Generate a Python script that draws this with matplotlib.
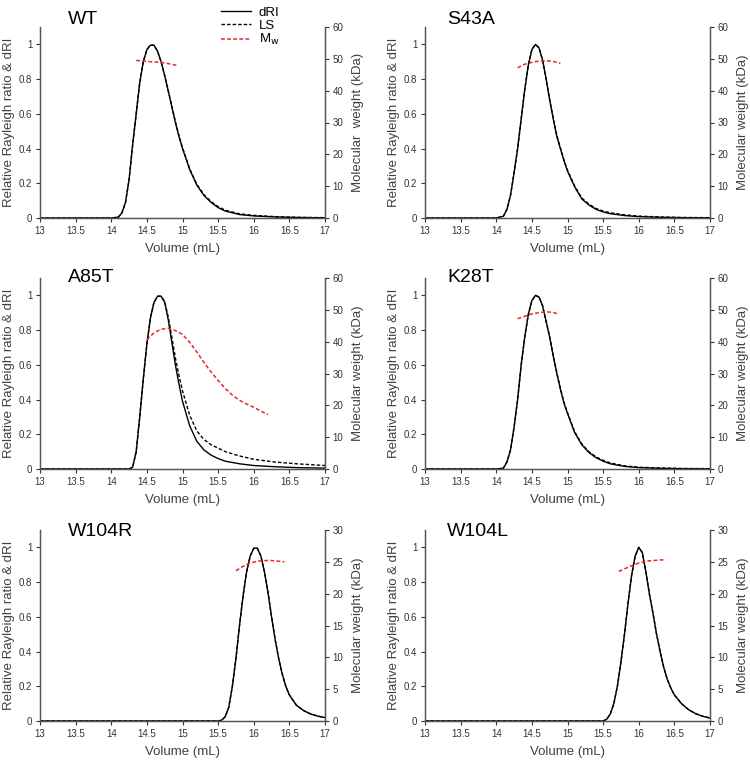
import numpy as np
import matplotlib
matplotlib.use("Agg")
import matplotlib.pyplot as plt
from matplotlib.ticker import FormatStrFormatter, MultipleLocator

plt.rcParams['font.family'] = ['Liberation Sans', 'DejaVu Sans']

# elution volume grids (mL)
vol_a = [13.0, 14.0, 14.1, 14.15, 14.2, 14.25, 14.3, 14.35, 14.4, 14.45, 14.5,
         14.55, 14.6, 14.65, 14.7, 14.75, 14.8, 14.85, 14.9, 14.95, 15.0, 15.1,
         15.2, 15.3, 15.4, 15.5, 15.6, 15.8, 16.0, 16.3, 16.6, 17.0]
vol_b = [13.0, 15.5, 15.55, 15.6, 15.65, 15.7, 15.75, 15.8, 15.85, 15.9, 15.95,
         16.0, 16.05, 16.1, 16.15, 16.2, 16.25, 16.3, 16.35, 16.4, 16.45, 16.5,
         16.6, 16.7, 16.8, 16.9, 17.0]

# WT
wt_dri = [0, 0, 0.005, 0.03, 0.09, 0.22, 0.42, 0.6, 0.78, 0.9, 0.97,
          0.995, 0.995, 0.96, 0.9, 0.82, 0.73, 0.64, 0.55, 0.47, 0.4, 0.28,
          0.19, 0.13, 0.09, 0.06, 0.04, 0.02, 0.012, 0.006, 0.003, 0.001]
wt_ls = [0, 0, 0.005, 0.03, 0.09, 0.22, 0.42, 0.6, 0.78, 0.9, 0.97,
         0.995, 0.995, 0.96, 0.9, 0.82, 0.735, 0.645, 0.555, 0.475, 0.405, 0.285,
         0.195, 0.135, 0.095, 0.065, 0.045, 0.024, 0.015, 0.008, 0.004, 0.002]
wt_mw_vol = [14.35, 14.45, 14.55, 14.65, 14.75, 14.85, 14.92]
wt_mw = [49.5, 49.3, 49.1, 49.0, 48.7, 48.3, 47.9]

# S43A
s43a_dri = [0, 0, 0.01, 0.05, 0.13, 0.26, 0.4, 0.57, 0.74, 0.88, 0.97,
            1.0, 0.98, 0.91, 0.8, 0.68, 0.57, 0.47, 0.4, 0.33, 0.27, 0.18,
            0.11, 0.075, 0.05, 0.035, 0.025, 0.014, 0.008, 0.004, 0.002, 0.001]
s43a_ls = [0, 0, 0.01, 0.05, 0.13, 0.26, 0.4, 0.57, 0.74, 0.88, 0.97,
           1.0, 0.98, 0.91, 0.8, 0.68, 0.575, 0.475, 0.405, 0.335, 0.275, 0.185,
           0.115, 0.08, 0.055, 0.04, 0.03, 0.018, 0.011, 0.006, 0.003, 0.002]
s43a_mw_vol = [14.3, 14.4, 14.5, 14.6, 14.7, 14.8, 14.9]
s43a_mw = [47.2, 48.3, 48.9, 49.3, 49.4, 49.2, 48.6]

# A85T
a85t_dri = [0, 0, 0, 0, 0, 0, 0.01, 0.1, 0.3, 0.52, 0.72,
            0.87, 0.96, 0.995, 0.995, 0.96, 0.86, 0.73, 0.6, 0.49, 0.39, 0.25,
            0.16, 0.11, 0.08, 0.06, 0.045, 0.03, 0.02, 0.013, 0.008, 0.005]
a85t_ls = [0, 0, 0, 0, 0, 0, 0.01, 0.1, 0.3, 0.52, 0.72,
           0.87, 0.96, 0.995, 0.995, 0.965, 0.875, 0.76, 0.64, 0.54, 0.45, 0.31,
           0.22, 0.17, 0.14, 0.12, 0.1, 0.075, 0.056, 0.04, 0.03, 0.02]
a85t_mw_vol = [14.5, 14.6, 14.7, 14.8, 14.9, 15.0, 15.1, 15.2, 15.3, 15.4,
               15.5, 15.6, 15.7, 15.8, 15.9, 16.0, 16.1, 16.2]
a85t_mw = [40.6, 42.8, 43.9, 44.2, 43.5, 42.3, 39.8, 36.8, 33.5, 30.5,
           27.8, 25.3, 23.2, 21.6, 20.4, 19.4, 18.2, 17.1]

# K28T
k28t_dri = [0, 0, 0.005, 0.04, 0.11, 0.24, 0.4, 0.6, 0.76, 0.89, 0.97,
            1.0, 0.99, 0.94, 0.85, 0.76, 0.65, 0.55, 0.46, 0.38, 0.32, 0.21,
            0.14, 0.095, 0.065, 0.045, 0.03, 0.015, 0.008, 0.004, 0.002, 0.001]
k28t_ls = [0, 0, 0.005, 0.04, 0.11, 0.24, 0.4, 0.6, 0.76, 0.89, 0.97,
           1.0, 0.99, 0.94, 0.85, 0.76, 0.655, 0.555, 0.465, 0.385, 0.325, 0.215,
           0.145, 0.1, 0.07, 0.05, 0.035, 0.018, 0.01, 0.006, 0.003, 0.002]
k28t_mw_vol = [14.3, 14.4, 14.5, 14.6, 14.7, 14.8, 14.88]
k28t_mw = [47.2, 48.0, 48.7, 49.1, 49.4, 49.2, 48.6]

# W104R
w104r_dri = [0, 0, 0.005, 0.025, 0.08, 0.2, 0.36, 0.55, 0.72, 0.86, 0.95,
             0.995, 0.995, 0.95, 0.86, 0.74, 0.6, 0.47, 0.36, 0.27, 0.2, 0.15,
             0.09, 0.06, 0.04, 0.028, 0.02]
w104r_ls = [0, 0, 0.005, 0.025, 0.08, 0.2, 0.36, 0.55, 0.72, 0.86, 0.95,
            0.995, 0.995, 0.95, 0.86, 0.74, 0.6, 0.47, 0.36, 0.27, 0.2, 0.15,
            0.09, 0.06, 0.04, 0.028, 0.02]
w104r_mw_vol = [15.75, 15.85, 15.95, 16.05, 16.15, 16.25, 16.35, 16.43]
w104r_mw = [23.6, 24.3, 24.8, 25.1, 25.2, 25.2, 25.1, 25.0]

# W104L
w104l_dri = [0, 0, 0.01, 0.04, 0.1, 0.2, 0.34, 0.5, 0.68, 0.84, 0.95,
             1.0, 0.97, 0.86, 0.73, 0.62, 0.5, 0.4, 0.31, 0.24, 0.19, 0.15,
             0.1, 0.065, 0.042, 0.027, 0.017]
w104l_ls = [0, 0, 0.01, 0.04, 0.1, 0.2, 0.34, 0.5, 0.68, 0.84, 0.95,
            1.0, 0.97, 0.86, 0.73, 0.62, 0.5, 0.4, 0.31, 0.24, 0.19, 0.15,
            0.1, 0.065, 0.042, 0.027, 0.017]
w104l_mw_vol = [15.72, 15.8, 15.9, 16.0, 16.1, 16.2, 16.3, 16.36]
w104l_mw = [23.5, 23.9, 24.4, 24.8, 25.1, 25.2, 25.3, 25.3]

names = ['WT', 'S43A', 'A85T', 'K28T', 'W104R', 'W104L']
vols = [vol_a, vol_a, vol_a, vol_a, vol_b, vol_b]
dri = [wt_dri, s43a_dri, a85t_dri, k28t_dri, w104r_dri, w104l_dri]
ls = [wt_ls, s43a_ls, a85t_ls, k28t_ls, w104r_ls, w104l_ls]
mw_vol = [wt_mw_vol, s43a_mw_vol, a85t_mw_vol, k28t_mw_vol, w104r_mw_vol, w104l_mw_vol]
mw = [wt_mw, s43a_mw, a85t_mw, k28t_mw, w104r_mw, w104l_mw]
mw_max = [60, 60, 60, 60, 30, 30]
mw_step = [10, 10, 10, 10, 5, 5]
right_labels = ['Molecular  weight (kDa)'] + ['Molecular weight (kDa)'] * 5

W, H = 750, 761
fig = plt.figure(figsize=(7.5, 7.61), dpi=100)

lefts = [40, 425]
tops = [27, 278, 530]
aw, ah = 285, 191
title_y = [1.04, 1.0, 0.99]
title_x = [0.098, 0.077]
grey = '#404040'

for i, name in enumerate(names):
    row, col = divmod(i, 2)
    ax = fig.add_axes([lefts[col] / W, 1 - (tops[row] + ah) / H, aw / W, ah / H])
    ax2 = ax.twinx()

    l1, = ax.plot(vols[i], dri[i], color='black', lw=1.0)
    l2, = ax.plot(vols[i], ls[i], color='black', lw=1.0, ls=(0, (2.5, 1.5)))
    l3, = ax2.plot(mw_vol[i], mw[i], color='#e8262b', lw=1.1, ls=(0, (2.5, 1.5)))

    ax.set_xlim(13, 17)
    ax.set_ylim(0, 1.1)
    ax2.set_ylim(0, mw_max[i])
    ax.set_yticks([0, 0.2, 0.4, 0.6, 0.8, 1.0])
    ax.xaxis.set_major_locator(MultipleLocator(0.5))
    ax.xaxis.set_major_formatter(FormatStrFormatter('%g'))
    ax.yaxis.set_major_formatter(FormatStrFormatter('%g'))
    ax2.yaxis.set_major_locator(MultipleLocator(mw_step[i]))

    for a in (ax, ax2):
        a.spines['top'].set_visible(False)
        for s in a.spines.values():
            s.set_color('#555555')
            s.set_linewidth(0.9)
        a.tick_params(labelsize=7, colors='#333333', length=3, width=0.8,
                      direction='out', pad=2.5)
        a.patch.set_visible(False)

    ax.set_xlabel('Volume (mL)', fontsize=9.5, color=grey, labelpad=5)
    ax.set_ylabel('Relative Rayleigh ratio & dRI', fontsize=9.5, color=grey, labelpad=3)
    ax2.set_ylabel(right_labels[i], fontsize=9.5, color=grey, labelpad=6)

    ax.text(title_x[col], title_y[row], name, transform=ax.transAxes,
            fontsize=14, va='center', ha='left')

    if i == 0:
        ax.legend([l1, l2, l3], ['dRI', 'LS', r'M$_\mathrm{w}$'], loc='upper left',
                  bbox_to_anchor=(214 / W, 1), bbox_transform=fig.transFigure,
                  frameon=False, fontsize=9.5, labelspacing=0.05,
                  handlelength=2.3, handletextpad=0.6, borderpad=0.0)

fig.savefig('out.png', dpi=100)
